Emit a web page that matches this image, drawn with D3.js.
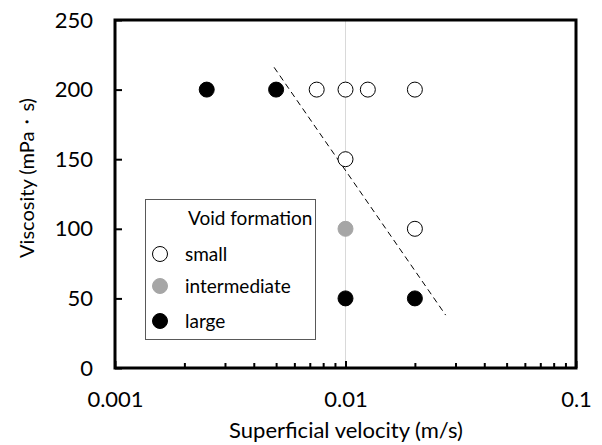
<!DOCTYPE html>
<html>
<head>
<meta charset="utf-8">
<script src="https://cdn.jsdelivr.net/npm/d3@7"></script>
<style>
  body { margin: 0; background: #fff; }
  text { font-family: Lato, "Noto Sans", sans-serif; fill: #000; }
</style>
</head>
<body>
<div id="viz"></div>
<script>
// void formation vs superficial velocity / viscosity

const categories = ["small", "intermediate", "large"];

const smallVelocity = [0.0075, 0.01, 0.0125, 0.02, 0.01, 0.02];
const smallViscosity = [200, 200, 200, 200, 150, 100];

const intermediateVelocity = [0.01];
const intermediateViscosity = [100];

const largeVelocity = [0.0025, 0.005, 0.01, 0.02];
const largeViscosity = [200, 200, 50, 50];

// dashed boundary line
const boundaryVelocity = [0.0049, 0.0272];
const boundaryViscosity = [216, 38];

const xTicks = [0.001, 0.01, 0.1];
const xTickLabels = ["0.001", "0.01", "0.1"];
const yTicks = [0, 50, 100, 150, 200, 250];

function drawChart() {
    var dimensions = {
        width: 602,
        height: 445,
        margins: {
            left: 115,
            right: 26,
            top: 20,
            bottom: 77
        }
    }
    dimensions.boundedWidth = dimensions.width - dimensions.margins.left - dimensions.margins.right;
    dimensions.boundedHeight = dimensions.height - dimensions.margins.top - dimensions.margins.bottom;

    const viz = d3.select('#viz').append('svg')
        .attr('width', dimensions.width)
        .attr('height', dimensions.height)

    const bounds = viz.append('g')
        .attr('transform', `translate(${dimensions.margins.left}, ${dimensions.margins.top})`);

    const xScale = d3.scaleLog()
        .domain([0.001, 0.1])
        .range([0, dimensions.boundedWidth])

    const yScale = d3.scaleLinear()
        .domain([0, 250])
        .range([dimensions.boundedHeight, 0])

    // gridline at 0.01
    bounds.append('line')
        .attr('x1', xScale(0.01)).attr('x2', xScale(0.01))
        .attr('y1', 0).attr('y2', dimensions.boundedHeight)
        .attr('stroke', '#d9d9d9')
        .attr('stroke-width', 1)

    // minor ticks on x (inside)
    let minor = [];
    for (let dec of [0.001, 0.01]) {
        for (let k = 2; k <= 9; k++) minor.push(dec * k);
    }
    bounds.append('g')
        .attr('transform', `translate(0, ${dimensions.boundedHeight})`)
        .call(d3.axisBottom(xScale).tickValues(minor).tickSize(-5).tickFormat(''))
        .call(g => g.select('.domain').remove())
        .call(g => g.selectAll('line').attr('stroke-width', 2))

    // major x ticks
    const xAxis = bounds.append('g')
        .attr('transform', `translate(0, ${dimensions.boundedHeight})`)
        .call(d3.axisBottom(xScale).tickValues(xTicks).tickSize(-7).tickPadding(22)
            .tickFormat((d, i) => xTickLabels[i]))
        .call(g => g.select('.domain').remove())
        .call(g => g.selectAll('line').attr('stroke-width', 2))
    xAxis.selectAll('text')
        .attr('y', 23)
        .attr('dy', '0.71em')
        .style('font-size', '22px')
        .style('font-family', 'Lato')

    const yAxis = bounds.append('g')
        .call(d3.axisLeft(yScale).tickValues(yTicks).tickSize(-7).tickPadding(22))
        .call(g => g.select('.domain').remove())
        .call(g => g.selectAll('line').attr('stroke-width', 2))
    yAxis.selectAll('text')
        .style('font-size', '22px')
        .style('font-family', 'Lato')

    // frame
    bounds.append('rect')
        .attr('width', dimensions.boundedWidth)
        .attr('height', dimensions.boundedHeight)
        .attr('fill', 'none')
        .attr('stroke', '#000')
        .attr('stroke-width', 3)

    // axis titles
    viz.append('text')
        .attr('x', 346)
        .attr('y', 438)
        .attr('text-anchor', 'middle')
        .style('font-size', '22px')
        .text('Superficial velocity (m/s)')

    viz.append('text')
        .attr('transform', 'translate(34, 178) rotate(-90)')
        .attr('text-anchor', 'middle')
        .style('font-size', '20px')
        .text('Viscosity (mPa・s)')

    // dashed line
    const line = d3.line()
        .x((d, i) => xScale(boundaryVelocity[i]))
        .y(d => yScale(d))
    bounds.append('path')
        .attr('d', line(boundaryViscosity))
        .attr('fill', 'none')
        .attr('stroke', '#000')
        .attr('stroke-width', 1)
        .attr('stroke-dasharray', '6,4')

    const styles = {
        small: { fill: '#fff', stroke: '#000' },
        intermediate: { fill: '#a6a6a6', stroke: '#a6a6a6' },
        large: { fill: '#000', stroke: '#000' }
    }
    const series = [
        { name: 'small', xs: smallVelocity, ys: smallViscosity },
        { name: 'intermediate', xs: intermediateVelocity, ys: intermediateViscosity },
        { name: 'large', xs: largeVelocity, ys: largeViscosity }
    ]

    // legend
    const legend = viz.append('g')
    legend.append('rect')
        .attr('x', 145.5).attr('y', 199.5)
        .attr('width', 170).attr('height', 140)
        .attr('fill', '#fff')
        .attr('stroke', '#595959')
        .attr('stroke-width', 1)
    legend.append('text')
        .attr('x', 188).attr('y', 225)
        .style('font-size', '19px')
        .text('Void formation')
    const legendY = [254, 286, 321];
    categories.forEach((c, i) => {
        legend.append('circle')
            .attr('cx', 160).attr('cy', legendY[i]).attr('r', 7.5)
            .attr('fill', styles[c].fill)
            .attr('stroke', styles[c].stroke)
            .attr('stroke-width', 1)
        legend.append('text')
            .attr('x', 185).attr('y', legendY[i])
            .attr('dy', '0.35em')
            .style('font-size', '19px')
            .text(c)
    })

    // points
    series.forEach(s => {
        bounds.selectAll(null)
            .data(s.ys)
            .enter()
            .append('circle')
                .attr('cx', (d, i) => xScale(s.xs[i]))
                .attr('cy', d => yScale(d))
                .attr('r', 7.5)
                .attr('fill', styles[s.name].fill)
                .attr('stroke', styles[s.name].stroke)
                .attr('stroke-width', 1)
    })
}

drawChart();
</script>
</body>
</html>
